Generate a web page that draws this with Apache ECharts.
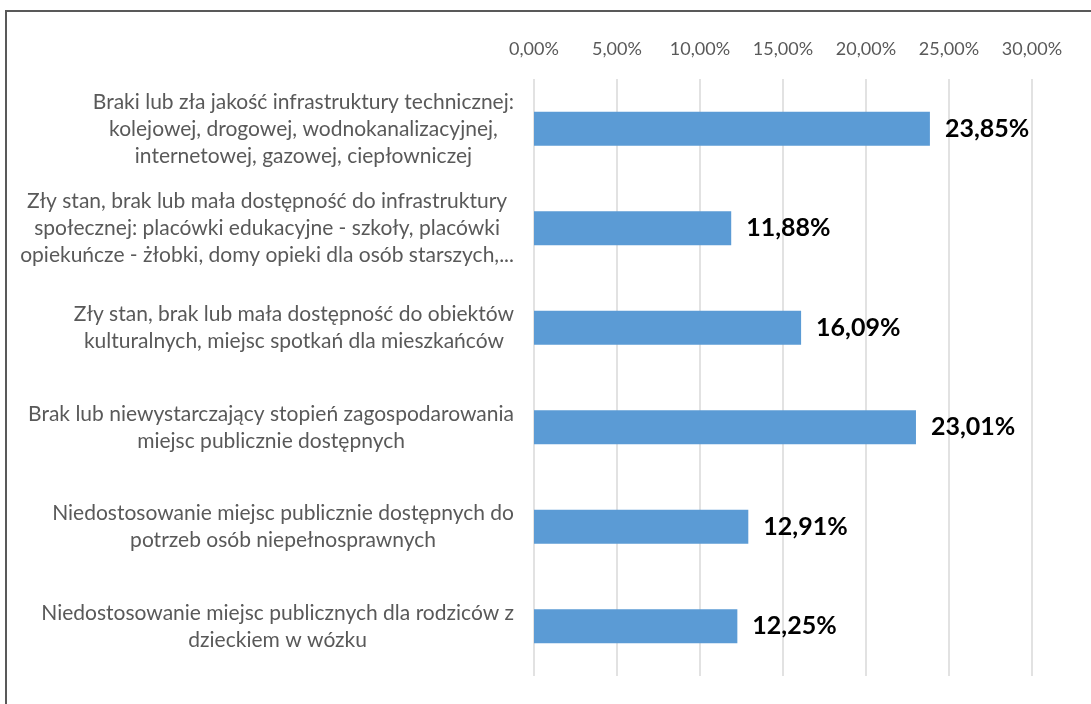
<!DOCTYPE html>
<html>
<head>
<meta charset="utf-8">
<script src="https://cdn.jsdelivr.net/npm/echarts@6/dist/echarts.min.js"></script>
<style>
  html, body { margin: 0; padding: 0; background: #fff; }
  #frame { position: absolute; left: 5px; top: 10px; width: 1200px; height: 800px;
           border: 2px solid #595959; box-sizing: border-box; }
  #chart { position: absolute; left: 0; top: 0; width: 1091px; height: 704px; }
</style>
</head>
<body>
<div id="frame"></div>
<div id="chart"></div>
<script>
// Problem categories (top to bottom) with manual line breaks
const categories = [
  'Braki lub zła jakość infrastruktury technicznej:\nkolejowej, drogowej, wodnokanalizacyjnej,\ninternetowej, gazowej, ciepłowniczej',
  'Zły stan, brak lub mała dostępność do infrastruktury\nspołecznej: placówki edukacyjne - szkoły, placówki\nopiekuńcze - żłobki, domy opieki dla osób starszych,...',
  'Zły stan, brak lub mała dostępność do obiektów\nkulturalnych, miejsc spotkań dla mieszkańców',
  'Brak lub niewystarczający stopień zagospodarowania\nmiejsc publicznie dostępnych',
  'Niedostosowanie miejsc publicznie dostępnych do\npotrzeb osób niepełnosprawnych',
  'Niedostosowanie miejsc publicznych dla rodziców z\ndzieckiem w wózku'
];
// Share of responses, percent
const values = [23.85, 11.88, 16.09, 23.01, 12.91, 12.25];
// Percentage axis ticks
const axisMin = 0, axisMax = 30, axisStep = 5;

const pct = v => v.toFixed(2).replace('.', ',') + '%';
const font = 'Lato, "Liberation Sans", sans-serif';

const chart = echarts.init(document.getElementById('chart'), null, { renderer: 'canvas' });
chart.setOption({
  animation: false,
  backgroundColor: 'transparent',
  grid: { left: 534, right: 59, top: 79, bottom: 28, containLabel: false },
  xAxis: {
    type: 'value', position: 'top',
    min: axisMin, max: axisMax, interval: axisStep,
    axisLine: { show: false }, axisTick: { show: false },
    splitLine: { show: true, lineStyle: { color: '#D9D9D9', width: 1.5 } },
    axisLabel: { formatter: pct, color: '#595959', fontFamily: font, fontSize: 18, margin: 21 }
  },
  yAxis: {
    type: 'category', data: categories, inverse: true,
    axisLine: { show: false }, axisTick: { show: false },
    axisLabel: {
      margin: 20, align: 'right', color: '#595959', fontFamily: font, fontSize: 21, lineHeight: 27,
      formatter: s => s.split('\n').map(l => '{c|' + l + '}').join('\n'),
      rich: { c: { align: 'center', color: '#595959', fontFamily: font, fontSize: 21, lineHeight: 27 } }
    }
  },
  series: [{
    type: 'bar', data: values, barWidth: 34,
    itemStyle: { color: '#5B9BD5' },
    label: {
      show: true, position: 'right', distance: 15,
      formatter: p => pct(p.value),
      color: '#000', fontFamily: font, fontWeight: 'bold', fontSize: 25
    }
  }]
});
</script>
</body>
</html>
